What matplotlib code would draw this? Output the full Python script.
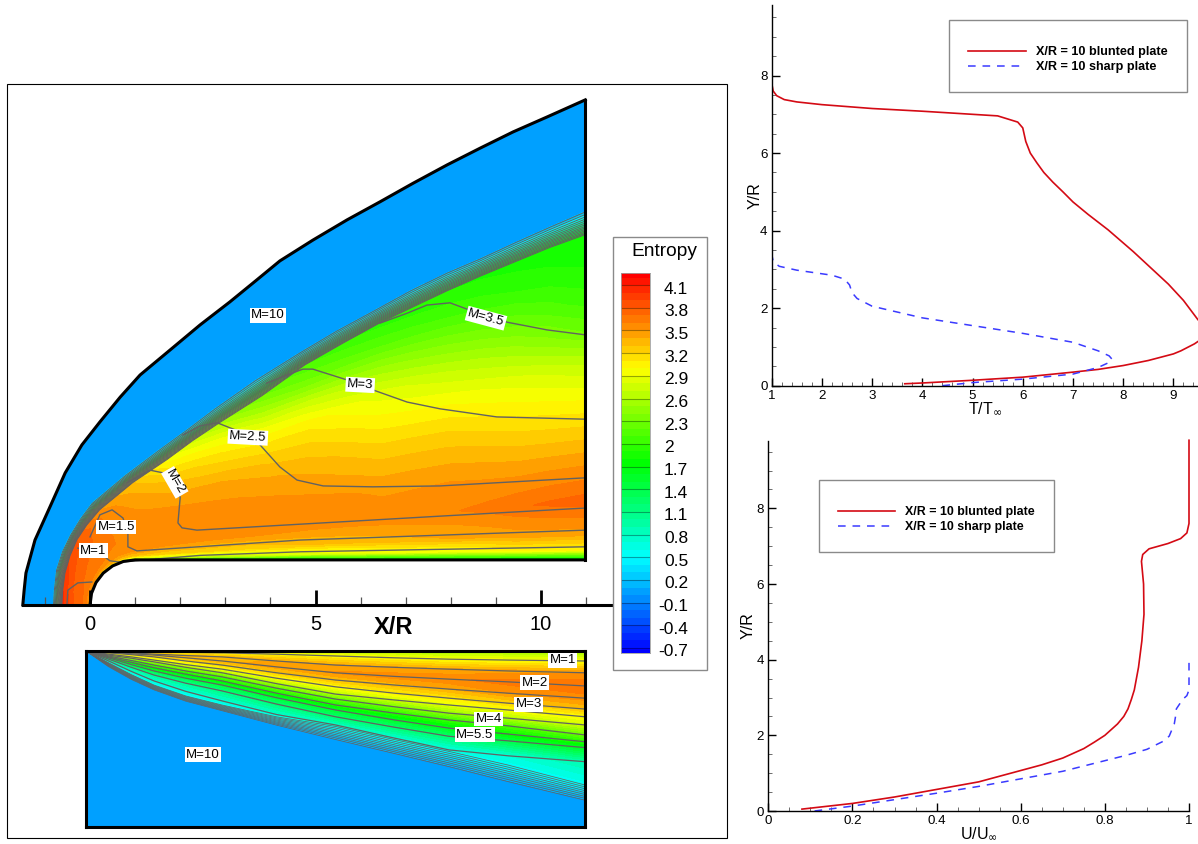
import numpy as np
import matplotlib
matplotlib.use('Agg')
import matplotlib.pyplot as plt
from matplotlib.colors import LinearSegmentedColormap, Normalize
from matplotlib.patches import Rectangle

plt.rcParams['font.family'] = ['Liberation Sans', 'DejaVu Sans']

W, H = 1198, 844

# blunted plate, stations running from the nose stagnation point to the outflow
wall_x = [0, 0.034, 0.134, 0.293, 0.5, 0.741, 1, 1.8, 2.5, 3, 3.5, 4.2, 5, 5.8, 6.5, 7.2, 8, 8.8, 9.5, 10.2, 10.98]
wall_y = [0, 0.259, 0.5, 0.707, 0.866, 0.966, 1, 1, 1, 1, 1, 1, 1, 1, 1, 1, 1, 1, 1, 1, 1]
shock_in_x = [-0.62, -0.6, -0.55, -0.44, -0.29, -0.07, 0.22, 0.95, 1.71, 2.28, 2.88, 3.81, 4.77, 5.61, 6.43, 7.18,
              7.92, 8.67, 9.42, 10.2, 10.98]
shock_in_y = [0, 0.33, 0.71, 1.09, 1.44, 1.77, 2.11, 2.71, 3.22, 3.64, 4.04, 4.63, 5.32, 5.8, 6.25, 6.61, 6.96,
              7.29, 7.6, 7.92, 8.2]
shock_out_x = [-0.82, -0.8, -0.75, -0.62, -0.44, -0.22, 0.04, 0.78, 1.55, 2.13, 2.75, 3.66, 4.66, 5.45, 6.32, 7.1,
               7.92, 8.67, 9.42, 10.2, 10.98]
shock_out_y = [0, 0.33, 0.78, 1.18, 1.55, 1.91, 2.26, 2.88, 3.46, 3.88, 4.35, 4.99, 5.61, 6.08, 6.55, 6.98, 7.38,
               7.7, 8.05, 8.4, 8.74]
outer_x = [-1.49, -1.46, -1.42, -1.22, -0.89, -0.55, -0.18, 0.22, 0.67, 1.11, 1.77, 2.44, 3.1, 3.7, 4.21, 4.94, 5.7,
           6.43, 7.16, 7.92, 8.65, 9.38, 10.13, 10.98]
outer_y = [0, 0.33, 0.71, 1.44, 2.17, 2.93, 3.55, 4.06, 4.61, 5.1, 5.65, 6.21, 6.72, 7.21, 7.63, 8.09, 8.54,
           8.94, 9.35, 9.76, 10.13, 10.49, 10.82, 11.2]

eta = [0, 0.01, 0.03, 0.08, 0.18, 0.29, 0.39, 0.49, 0.6, 0.7, 0.8, 0.9, 1]
entropy_blunt = [
    [1.5, 2.2, 3.0, 3.5, 3.65, 3.7, 3.72, 3.75, 3.8, 3.85, 3.92, 3.98, 4.05],
    [1.5, 2.2, 3.0, 3.5, 3.65, 3.7, 3.72, 3.75, 3.78, 3.82, 3.88, 3.95, 4.0],
    [1.5, 2.2, 3.0, 3.5, 3.62, 3.68, 3.7, 3.72, 3.75, 3.8, 3.85, 3.9, 3.95],
    [1.5, 2.15, 2.95, 3.45, 3.6, 3.65, 3.68, 3.7, 3.72, 3.75, 3.8, 3.85, 3.88],
    [1.5, 2.1, 2.9, 3.4, 3.58, 3.62, 3.65, 3.68, 3.7, 3.72, 3.75, 3.78, 3.8],
    [1.5, 2.05, 2.8, 3.35, 3.56, 3.58, 3.62, 3.64, 3.65, 3.68, 3.68, 3.7, 3.65],
    [1.5, 2.0, 2.7, 3.3, 3.55, 3.57, 3.58, 3.58, 3.58, 3.58, 3.58, 3.57, 3.5],
    [1.4, 1.9, 2.6, 3.2, 3.5, 3.56, 3.56, 3.55, 3.52, 3.48, 3.44, 3.38, 3.3],
    [1.4, 1.9, 2.6, 3.2, 3.5, 3.56, 3.56, 3.53, 3.47, 3.38, 3.28, 3.13, 2.95],
    [1.4, 1.9, 2.65, 3.2, 3.52, 3.56, 3.55, 3.5, 3.43, 3.3, 3.18, 3.0, 2.75],
    [1.4, 1.9, 2.7, 3.2, 3.55, 3.56, 3.53, 3.48, 3.38, 3.23, 3.08, 2.88, 2.55],
    [1.4, 1.9, 2.75, 3.25, 3.56, 3.56, 3.5, 3.42, 3.28, 3.12, 2.92, 2.6, 2.3],
    [1.4, 1.9, 2.8, 3.3, 3.56, 3.54, 3.45, 3.35, 3.2, 3.05, 2.75, 2.35, 2.1],
    [1.4, 1.95, 2.85, 3.32, 3.56, 3.52, 3.4, 3.28, 3.11, 2.95, 2.65, 2.27, 2.02],
    [1.4, 2.0, 2.9, 3.35, 3.57, 3.48, 3.35, 3.2, 3.02, 2.85, 2.55, 2.2, 1.95],
    [1.4, 2.0, 2.9, 3.38, 3.58, 3.49, 3.35, 3.19, 2.98, 2.78, 2.47, 2.15, 1.92],
    [1.4, 2.0, 2.9, 3.4, 3.59, 3.5, 3.35, 3.18, 2.95, 2.7, 2.4, 2.1, 1.9],
    [1.4, 2.0, 2.95, 3.42, 3.63, 3.49, 3.32, 3.13, 2.9, 2.63, 2.33, 2.05, 1.88],
    [1.4, 2.0, 3.0, 3.45, 3.68, 3.48, 3.28, 3.08, 2.85, 2.55, 2.25, 2.0, 1.85],
    [1.4, 2.0, 3.0, 3.45, 3.72, 3.49, 3.26, 3.04, 2.78, 2.43, 2.15, 1.95, 1.82],
    [1.4, 2.0, 3.0, 3.45, 3.75, 3.5, 3.25, 3.0, 2.7, 2.3, 2.05, 1.9, 1.8],
]
entropy_free = 0.05

mach_lines_blunt = [
    ([-0.51, -0.51, -0.49, -0.27, 0.04], [0, 0.04, 0.33, 0.49, 0.51]),
    ([-0.27, 0.22, 0.44, 0.67, 1.11, 2.44, 4.66, 10.98], [1.26, 1.15, 0.98, 0.95, 0.99, 1.1, 1.18, 1.29]),
    ([0, 0.22, 0.49, 0.73, 0.84, 0.84, 1.04, 4.66, 10.98], [1.51, 2.0, 2.11, 1.93, 1.62, 1.29, 1.2, 1.44, 1.66]),
    ([0.82, 1.33, 1.62, 2, 1.95, 2.04, 2.37, 7.76, 10.98], [2.71, 2.99, 2.93, 2.39, 1.82, 1.71, 1.66, 1.97, 2.15]),
    ([2.06, 2.44, 2.82, 3.33, 3.77, 4.21, 4.59, 5.17, 6.27, 7.76, 10.98],
     [3.77, 3.97, 4.04, 3.84, 3.55, 3.06, 2.77, 2.64, 2.62, 2.64, 2.82]),
    ([3.92, 4.37, 4.72, 4.94, 5.7, 6.27, 7.03, 7.76, 9.02, 10.98],
     [4.92, 5.1, 5.23, 5.23, 4.99, 4.77, 4.5, 4.35, 4.17, 4.12]),
    ([6.43, 7.03, 7.47, 7.98, 8.36, 9.25, 10.13, 10.98], [6.25, 6.47, 6.65, 6.7, 6.56, 6.27, 6.1, 5.99]),
]
labels_blunt = [
    ('M=10', 3.95, 6.42, 0), ('M=3.5', 8.78, 6.36, -15), ('M=3', 5.99, 4.88, -3), ('M=2.5', 3.5, 3.72, -3),
    ('M=2', 1.88, 2.72, -60), ('M=1.5', 0.58, 1.73, 0), ('M=1', 0.07, 1.2, 0),
]
band_levels = [0.02, 0.07, 0.12, 0.18, 0.24, 0.3, 0.36, 0.43, 0.5, 0.58, 0.66, 0.75, 0.85, 0.95]

# sharp plate, y measured downwards from the plate surface
sharp_x = [0, 0.5, 1, 1.5, 2.2, 3, 4.2, 5.5, 6.8, 8, 9.3, 11]
mach_y_sharp = [
    [0, 0.01, 0.015, 0.02, 0.03, 0.04, 0.07, 0.11, 0.15, 0.18, 0.2, 0.22],
    [0, 0.02, 0.04, 0.07, 0.1, 0.13, 0.22, 0.31, 0.36, 0.4, 0.44, 0.48],
    [0, 0.03, 0.06, 0.09, 0.15, 0.22, 0.35, 0.48, 0.56, 0.62, 0.68, 0.77],
    [0, 0.04, 0.08, 0.13, 0.22, 0.31, 0.48, 0.64, 0.75, 0.84, 0.93, 1.04],
    [0, 0.07, 0.13, 0.2, 0.3, 0.4, 0.6, 0.79, 0.93, 1.04, 1.15, 1.28],
    [0, 0.09, 0.16, 0.24, 0.36, 0.48, 0.72, 0.95, 1.08, 1.19, 1.3, 1.45],
    [0, 0.11, 0.21, 0.31, 0.44, 0.57, 0.82, 1.06, 1.23, 1.37, 1.48, 1.63],
    [0, 0.13, 0.25, 0.37, 0.51, 0.66, 0.93, 1.19, 1.37, 1.52, 1.65, 1.85],
    [0, 0.15, 0.3, 0.44, 0.6, 0.75, 1.03, 1.3, 1.52, 1.7, 1.83, 2.0],
    [0, 0.18, 0.36, 0.53, 0.71, 0.88, 1.17, 1.45, 1.68, 1.88, 1.98, 2.13],
    [0, 0.22, 0.45, 0.66, 0.89, 1.1, 1.4, 1.63, 1.92, 2.18, 2.31, 2.44],
]
shock_in_sharp = [0, 0.26, 0.52, 0.75, 0.99, 1.19, 1.45, 1.66, 1.95, 2.21, 2.51, 2.95]
shock_out_sharp = [0, 0.35, 0.63, 0.86, 1.11, 1.32, 1.64, 1.96, 2.27, 2.56, 2.89, 3.3]
bottom_sharp = 3.88
# columns: wall, 11 mach lines, inner shock edge
entropy_sharp = [
    [2.7, 3.0, 3.3, 3.3, 3.1, 2.8, 2.45, 2.05, 1.75, 1.4, 1.0, 0.7, 0.5],
    [2.7, 3.0, 3.3, 3.3, 3.1, 2.8, 2.45, 2.05, 1.75, 1.4, 1.0, 0.7, 0.5],
    [2.7, 3.0, 3.3, 3.3, 3.1, 2.8, 2.45, 2.05, 1.75, 1.4, 1.0, 0.7, 0.5],
    [2.7, 3.0, 3.3, 3.3, 3.1, 2.8, 2.45, 2.05, 1.75, 1.4, 1.0, 0.7, 0.5],
    [2.7, 3.0, 3.3, 3.3, 3.1, 2.8, 2.45, 2.05, 1.75, 1.4, 1.0, 0.7, 0.5],
    [2.7, 3.0, 3.35, 3.38, 3.2, 2.9, 2.5, 2.1, 1.8, 1.45, 1.1, 0.7, 0.5],
    [2.65, 3.0, 3.4, 3.45, 3.25, 2.95, 2.55, 2.15, 1.82, 1.48, 1.15, 0.72, 0.55],
    [2.6, 3.0, 3.42, 3.52, 3.3, 3.0, 2.6, 2.2, 1.85, 1.5, 1.2, 0.75, 0.6],
    [2.55, 2.98, 3.42, 3.55, 3.35, 3.05, 2.72, 2.32, 1.92, 1.55, 1.2, 0.7, 0.55],
    [2.5, 2.95, 3.42, 3.58, 3.4, 3.1, 2.85, 2.45, 2.0, 1.6, 1.2, 0.65, 0.5],
    [2.5, 2.95, 3.45, 3.64, 3.5, 3.2, 2.95, 2.6, 2.1, 1.75, 1.4, 0.7, 0.55],
    [2.5, 2.95, 3.48, 3.7, 3.55, 3.3, 3.0, 2.75, 2.25, 1.9, 1.6, 0.9, 0.55],
]
labels_sharp = [
    ('M=1', 10.51, 0.2), ('M=2', 9.89, 0.7), ('M=3', 9.76, 1.17), ('M=4', 8.88, 1.5),
    ('M=5.5', 8.57, 1.85), ('M=10', 2.58, 2.29),
]

bar_ticks = [4.1, 3.8, 3.5, 3.2, 2.9, 2.6, 2.3, 2, 1.7, 1.4, 1.1, 0.8, 0.5, 0.2, -0.1, -0.4, -0.7]
bar_labels = ['4.1', '3.8', '3.5', '3.2', '2.9', '2.6', '2.3', '2', '1.7', '1.4', '1.1', '0.8', '0.5', '0.2',
              '-0.1', '-0.4', '-0.7']

# temperature profiles
temp_blunt = [3.65, 4, 5, 6, 7, 7.5, 8, 8.5, 9, 9.15, 9.3, 9.42, 9.5, 9.58, 9.62, 9.58, 9.49, 9.2, 8.9, 8.6, 8.2,
              7.7, 7.3, 7.0, 6.8, 6.6, 6.42, 6.28, 6.15, 6.06, 6.0, 5.9, 5.5, 4, 3, 2, 1.5, 1.25, 1.1, 1.03, 1, 1]
temp_blunt_y = [0.05, 0.07, 0.14, 0.22, 0.35, 0.42, 0.52, 0.65, 0.82, 0.9, 1.0, 1.08, 1.15, 1.25, 1.45, 1.6, 1.7,
                2.2, 2.62, 2.98, 3.46, 4.02, 4.42, 4.74, 5.0, 5.25, 5.5, 5.75, 6.0, 6.3, 6.65, 6.8, 6.96, 7.08, 7.15,
                7.25, 7.32, 7.38, 7.48, 7.6, 7.8, 9.8]
temp_sharp = [4.4, 5, 6, 7, 7.5, 7.72, 7.78, 7.72, 7.5, 7, 6, 5, 4, 3, 2.7, 2.6, 2.55, 2.45, 2.2, 1.5, 1.15, 1.03, 1]
temp_sharp_y = [0, 0.08, 0.17, 0.3, 0.47, 0.6, 0.68, 0.77, 0.9, 1.12, 1.35, 1.55, 1.75, 2.05, 2.25, 2.4, 2.6, 2.75,
                2.85, 2.98, 3.08, 3.2, 3.4]

# velocity profiles
vel_blunt = [0.08, 0.2, 0.3, 0.4, 0.45, 0.5, 0.55, 0.6, 0.65, 0.7, 0.75, 0.775, 0.8, 0.815, 0.83, 0.845, 0.855, 0.863,
             0.87, 0.88, 0.888, 0.893, 0.892, 0.887, 0.89, 0.905, 0.95, 0.98, 0.995, 1, 1]
vel_blunt_y = [0.05, 0.2, 0.37, 0.57, 0.67, 0.77, 0.92, 1.07, 1.22, 1.4, 1.65, 1.82, 2.0, 2.15, 2.3, 2.5, 2.7, 2.95,
               3.2, 3.8, 4.5, 5.2, 6, 6.6, 6.78, 6.93, 7.07, 7.2, 7.35, 7.6, 9.8]
vel_sharp = [0.11, 0.2, 0.3, 0.4, 0.5, 0.6, 0.7, 0.8, 0.85, 0.9, 0.94, 0.953, 0.965, 0.968, 0.97, 0.985, 0.995, 1, 1]
vel_sharp_y = [0, 0.13, 0.3, 0.47, 0.65, 0.85, 1.05, 1.33, 1.47, 1.63, 1.85, 1.98, 2.3, 2.5, 2.7, 2.95, 3.05, 3.2, 4]

legend_names = ['X/R = 10 blunted plate', 'X/R = 10 sharp plate']

rainbow = LinearSegmentedColormap.from_list('rainbow_small', ['#0000ff', '#00ffff', '#00ff00', '#ffff00', '#ff0000'])
norm = Normalize(-0.75, 4.25)
levels = np.arange(-0.8, 4.35, 0.1)
LINE = '#626262'
RED = '#d40a14'
BLUE = '#3a3aff'


def px_axes(x0, y0, x1, y1, **kw):
    return fig.add_axes([x0 / W, 1 - y1 / H, (x1 - x0) / W, (y1 - y0) / H], **kw)


def px_box(x0, y0, x1, y1, **kw):
    fig.add_artist(Rectangle((x0 / W, 1 - y1 / H), (x1 - x0) / W, (y1 - y0) / H, transform=fig.transFigure, **kw))


fig = plt.figure(figsize=(W / 100, H / 100), dpi=100)
px_box(7, 84, 727, 838, fc='white', ec='black', lw=0.8, zorder=-1)

# blunted plate panel
ax = px_axes(8, 85, 726, 645)
ax.patch.set_alpha(0)
ax.set_xlim(-1.818, 14.1)
ax.set_ylim(-0.887, 11.53)

wx, wy = np.array(wall_x), np.array(wall_y)
ix, iy = np.array(shock_in_x), np.array(shock_in_y)
ox, oy = np.array(shock_out_x), np.array(shock_out_y)
free_colour = rainbow(norm(entropy_free))
ax.fill(outer_x + shock_out_x[::-1], outer_y + shock_out_y[::-1], color=free_colour, lw=0, zorder=0.5)
grid_x = [wx + e * (ix - wx) for e in eta] + [ox]
grid_y = [wy + e * (iy - wy) for e in eta] + [oy]
grid_x, grid_y = np.array(grid_x).T, np.array(grid_y).T
field = np.hstack([np.array(entropy_blunt), np.full((len(wall_x), 1), entropy_free)])
ax.contourf(grid_x, grid_y, field, levels=levels, cmap=rainbow, norm=norm, zorder=1)

band_x = np.array([ix, ox]).T
band_y = np.array([iy, oy]).T
ax.contour(band_x, band_y, np.tile([0, 1], (len(ix), 1)), levels=band_levels,
           colors=LINE, linewidths=0.7, zorder=2)
for lx, ly in mach_lines_blunt:
    ax.plot(lx, ly, color=LINE, lw=1.0, zorder=2)
for s, x, y, rot in labels_blunt:
    ax.text(x, y, s, fontsize=9.5, ha='center', va='center', rotation=rot, zorder=4,
            bbox=dict(fc='white', ec='none', pad=1.0))

# body outline and domain edge
ax.plot(wall_x, wall_y, color='black', lw=2.2, zorder=3)
ax.plot(outer_x, outer_y, color='black', lw=2.2, zorder=3)
ax.plot([outer_x[-1], wall_x[-1]], [outer_y[-1], wall_y[-1]], color='black', lw=2.2, zorder=3)

for side in ['top', 'left', 'right']:
    ax.spines[side].set_visible(False)
ax.spines['bottom'].set_position(('data', 0))
ax.spines['bottom'].set_bounds(-1.49, 11.6)
ax.spines['bottom'].set_linewidth(2.2)
ax.set_xticks([0, 5, 10])
ax.set_xticks([-1, 1, 2, 3, 4, 6, 7, 8, 9, 11], minor=True)
ax.set_yticks([])
ax.tick_params(axis='x', which='major', direction='in', length=11, width=2, labelsize=14.5, pad=7)
ax.tick_params(axis='x', which='minor', direction='in', length=6, width=0.9, color='#555555')
ax.text(6.72, -0.5, 'X/R', fontsize=17, fontweight='bold', ha='center', va='center')

# sharp plate panel
ax2 = px_axes(86, 651, 585, 827)
ax2.set_xlim(0, 11)
ax2.set_ylim(bottom_sharp, 0)
sx = np.array(sharp_x)
rows_y = [np.zeros(len(sx))] + [np.array(r) for r in mach_y_sharp] + \
         [np.array(shock_in_sharp), np.array(shock_out_sharp), np.full(len(sx), bottom_sharp)]
rows_y = np.array(rows_y).T
rows_x = np.tile(sx, (rows_y.shape[1], 1)).T
field2 = np.hstack([np.array(entropy_sharp), np.full((len(sx), 2), entropy_free)])
ax2.contourf(rows_x, rows_y, field2, levels=levels, cmap=rainbow, norm=norm, zorder=1)
ax2.contour(np.array([sx, sx]).T, np.array([shock_in_sharp, shock_out_sharp]).T, np.tile([0, 1], (len(sx), 1)),
            levels=np.arange(0.01, 1.0, 0.12), colors=LINE, linewidths=0.55, zorder=2)
for r in mach_y_sharp:
    ax2.plot(sharp_x, r, color=LINE, lw=0.9, zorder=2)
for s, x, y in labels_sharp:
    ax2.text(x, y, s, fontsize=9.5, ha='center', va='center', zorder=4, bbox=dict(fc='white', ec='none', pad=1.0))
ax2.set_xticks([])
ax2.set_yticks([])
for sp in ax2.spines.values():
    sp.set_linewidth(2.2)

# contour legend
px_box(613, 237, 707, 670, fc='white', ec='#8a8a8a', lw=1.0, zorder=3)
fig.text(664 / W, 1 - 251 / H, 'Entropy', fontsize=13.8, ha='center', va='center', zorder=5)
cax = px_axes(621, 273, 650, 653, zorder=6)
cax.set_xlim(0, 1)
cax.set_ylim(-0.766, 4.26)
mids = (levels[:-1] + levels[1:]) / 2
cax.pcolormesh([0, 1], levels, mids[:, None], cmap=rainbow, norm=norm)
cax.hlines(bar_ticks, 0, 1, color='black', alpha=0.35, lw=0.8)
cax.set_xticks([])
cax.set_yticks([])
for sp in cax.spines.values():
    sp.set_color('#a0a0a0')
    sp.set_linewidth(0.6)
for v, s in zip(bar_ticks, bar_labels):
    x_txt = 658 if s.startswith('-') else 664
    ypx = 285 + (4.1 - v) * 75.6 + 4
    fig.text(x_txt / W, 1 - ypx / H, s, fontsize=12.5, ha='left', va='center', zorder=5)


def profile_axes(box, xlim, ylim, major_x, minor_x, xlabels, xname, ypad):
    a = px_axes(*box)
    a.set_xlim(*xlim)
    a.set_ylim(*ylim)
    a.spines['top'].set_visible(False)
    a.spines['right'].set_visible(False)
    a.spines['left'].set_linewidth(1.0)
    a.spines['bottom'].set_linewidth(1.0)
    a.set_xticks(major_x, xlabels)
    a.set_xticks(minor_x, minor=True)
    a.set_yticks([0, 2, 4, 6, 8], ['0', '2', '4', '6', '8'])
    a.set_yticks([0.5, 1, 1.5, 2.5, 3, 3.5, 4.5, 5, 5.5, 6.5, 7, 7.5, 8.5, 9, 9.5], minor=True)
    a.tick_params(which='major', direction='in', length=6, width=1.0, labelsize=9.6, pad=3)
    a.tick_params(which='minor', direction='in', length=3, width=0.6, color='#555555')
    a.set_xlabel(xname, fontsize=11.5, labelpad=-1)
    a.set_ylabel('Y/R', fontsize=11.5, labelpad=ypad)
    return a


# temperature
ax3 = profile_axes((771.7, 5, 1198, 385.7), (1, 9.49), (0, 9.82), [1, 2, 3, 4, 5, 6, 7, 8, 9],
                   [v / 5 for v in range(5, 48) if v % 5], ['1', '2', '3', '4', '5', '6', '7', '8', '9'],
                   'T/T$_{\\infty}$', -2)
ax3.plot(temp_blunt, temp_blunt_y, color=RED, lw=1.2, label=legend_names[0])
ax3.plot(temp_sharp, temp_sharp_y, color=BLUE, lw=1.1, dashes=(5, 4.5), label=legend_names[1])

# velocity
ax4 = profile_axes((768.3, 441, 1189, 811), (0, 1), (0, 9.78), [0, 0.2, 0.4, 0.6, 0.8, 1],
                   [0.05, 0.1, 0.15, 0.25, 0.3, 0.35, 0.45, 0.5, 0.55, 0.65, 0.7, 0.75, 0.85, 0.9, 0.95],
                   ['0', '0.2', '0.4', '0.6', '0.8', '1'], 'U/U$_{\\infty}$', 0.5)
ax4.plot(vel_blunt, vel_blunt_y, color=RED, lw=1.2, clip_on=False, label=legend_names[0])
ax4.plot(vel_sharp, vel_sharp_y, color=BLUE, lw=1.1, dashes=(5, 4.5), clip_on=False, label=legend_names[1])

for a, center, size in [(ax3, (1068, 56), 9.1), (ax4, (936.5, 516), 8.95)]:
    a.legend(loc='center', bbox_to_anchor=(center[0] / W, 1 - center[1] / H), bbox_transform=fig.transFigure,
             prop=dict(weight='bold', size=size), frameon=True, fancybox=False, framealpha=1, edgecolor='#8a8a8a',
             borderpad=1.52, handlelength=4.6, handletextpad=0.8, labelspacing=0.25, title=' ', title_fontsize=3)

fig.savefig('out.png', dpi=100)
